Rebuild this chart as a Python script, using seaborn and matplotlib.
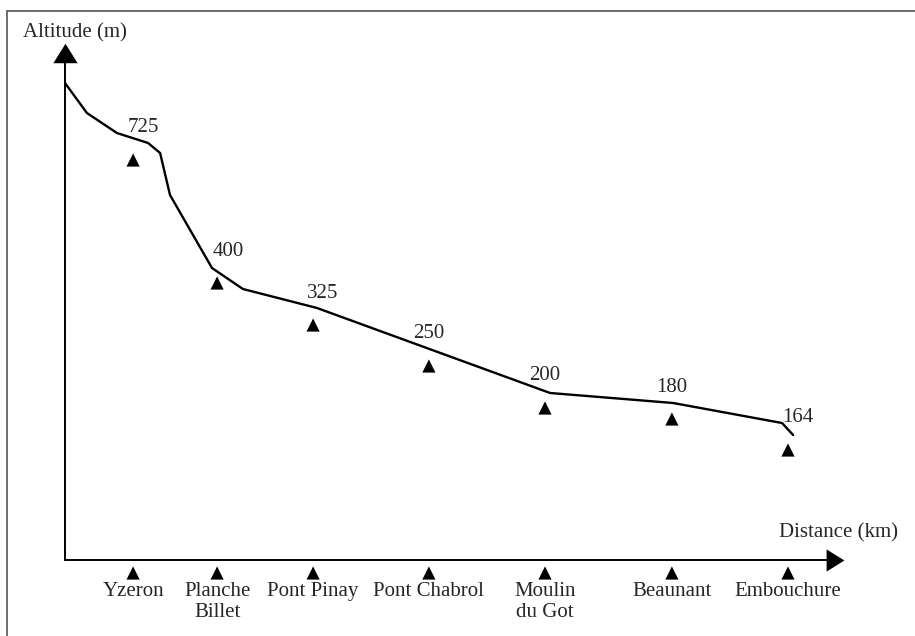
import matplotlib
matplotlib.use("Agg")
import matplotlib.pyplot as plt
import seaborn as sns
import pandas as pd

# === Data (schematic long profile of the Yzeron) ===
# distance along river (km) and schematic profile height of the drawn line
profile_km = [0.0, 0.73, 1.73, 2.77, 3.17, 3.5, 4.9, 5.93, 8.4, 16.17, 20.27, 23.9, 24.27]
profile_h = [238.5, 223.5, 213.5, 208.5, 203.5, 182.5, 146.0, 135.5, 126.0, 83.5, 78.5, 68.5, 62.5]

stations = ["Yzeron", "Planche\nBillet", "Pont Pinay", "Pont Chabrol",
            "Moulin\ndu Got", "Beaunant", "Embouchure"]
station_km = [2.27, 5.07, 8.27, 12.13, 16.0, 20.23, 24.1]
station_h = [200.0, 138.5, 117.5, 97.0, 76.0, 70.5, 55.0]
altitudes = [725, 400, 325, 250, 200, 180, 164]
label_dx = [0.33, 0.37, 0.33, 0.0, 0.0, 0.0, 0.33]

df_line = pd.DataFrame({"km": profile_km, "h": profile_h})
df_st = pd.DataFrame({"km": station_km, "h": station_h, "alt": altitudes})

# === Style ===
sns.set_theme(style="white")
plt.rcParams["font.family"] = ["Liberation Serif", "DejaVu Serif"]
FS = 15

fig = plt.figure(figsize=(9.15, 6.36), dpi=100)
ax = fig.add_axes([0, 0, 1, 1])
ax.set_xlim(-65 / 30, 850 / 30)
ax.set_ylim(-38, 280)
ax.axis("off")

# frame (top and left edges)
fig.add_artist(plt.Line2D([7 / 915, 7 / 915], [0, 1 - 11 / 636], color="#555555", lw=1.2))
fig.add_artist(plt.Line2D([7 / 915, 1], [1 - 11 / 636, 1 - 11 / 636], color="#555555", lw=1.2))

# axes with arrowheads
x_end = 25.65
y_end = 253.75
ax.plot([0, 0], [0, y_end], color="black", lw=1.4)
ax.plot([0, x_end], [0, 0], color="black", lw=1.4)
ax.plot(0, y_end, marker=[(0, 0.8), (-1, -0.8), (1, -0.8)], markersize=17.5,
        color="black", mew=0)
ax.plot(x_end, 0, marker=[(0.8, 0), (-0.8, 1), (-0.8, -1)], markersize=16,
        color="black", mew=0)

ax.text(-1.4, 263.5, "Altitude (m)", fontsize=FS, ha="left", va="center")
ax.text(27.77, 13.5, "Distance (km)", fontsize=FS, ha="right", va="center")

# profile line
sns.lineplot(data=df_line, x="km", y="h", color="black", lw=1.7, ax=ax,
             sort=False, estimator=None)

# station triangles near the profile
sns.scatterplot(data=df_st, x="km", y="h", marker="^", s=90, color="black",
                edgecolor="none", ax=ax)
for km, h, alt, dx in zip(station_km, station_h, altitudes, label_dx):
    ax.text(km + dx, h + 16, str(alt), fontsize=FS, ha="center", va="center")

# station triangles and names under the distance axis
df_st["base"] = -6.5
sns.scatterplot(data=df_st, x="km", y="base", marker="^", s=90, color="black",
                edgecolor="none", ax=ax)
for km, name in zip(station_km, stations):
    ax.text(km, -11.0, name, fontsize=FS, ha="center", va="top", linespacing=1.15)

ax.set_xlabel("")
ax.set_ylabel("")
fig.savefig("out.png", dpi=100)
